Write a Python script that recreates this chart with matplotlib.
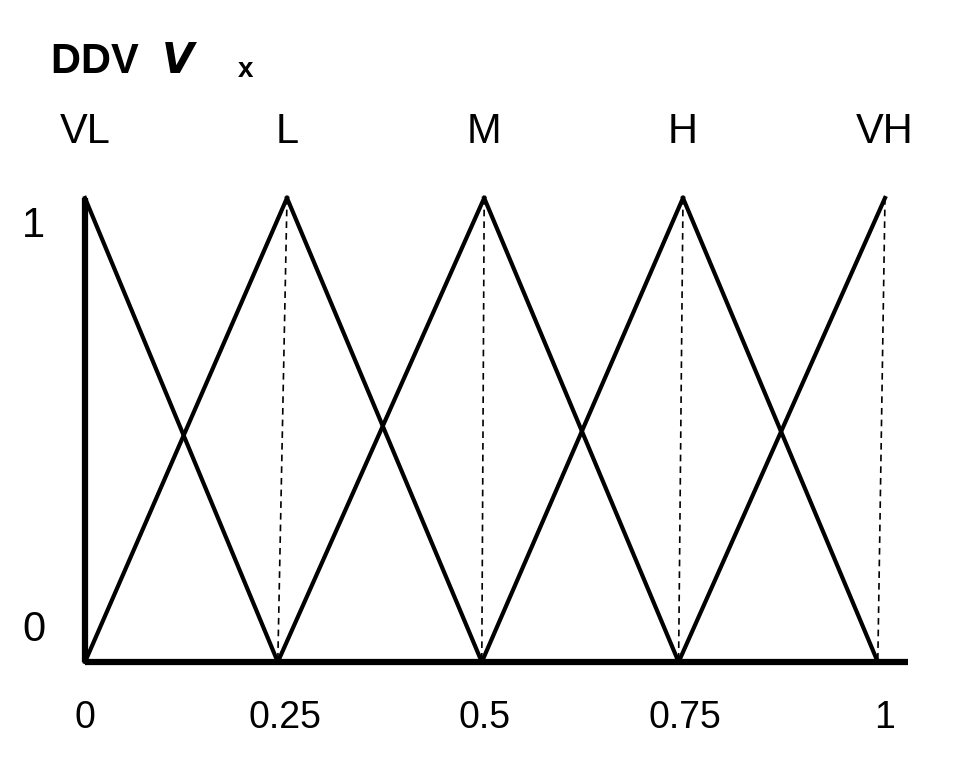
import matplotlib.pyplot as plt

plt.rcParams['font.family'] = ['Liberation Sans', 'DejaVu Sans']

# membership function labels and peak positions (top / bottom ends, hand drawn)
labels = ['VL', 'L', 'M', 'H', 'VH']
peak_top = [0.0, 0.2525, 0.499, 0.7475, 1.0]
peak_bottom = [0.0, 0.241, 0.496, 0.742, 0.991]
xticks = [0, 0.25, 0.5, 0.75, 1]
xtick_labels = ['0', '0.25', '0.5', '0.75', '1']

fig = plt.figure(figsize=(9.57, 7.6), dpi=100)
ax = fig.add_axes([85 / 957, 1 - 662 / 760, 800 / 957, 464 / 760])
ax.set_xlim(0, 1)
ax.set_ylim(0, 1)
ax.axis('off')

lw = 3.0
n = len(labels)
for i in range(n):
    top = peak_top[i]
    if i > 0:
        ax.plot([peak_bottom[i - 1], top], [0, 1], color='black', lw=lw, clip_on=False)
    if i < n - 1:
        ax.plot([top, peak_bottom[i + 1]], [1, 0], color='black', lw=lw, clip_on=False)
    if i > 0:
        ax.plot([top, peak_bottom[i]], [1, 0], color='black', lw=1.2, ls=(0, (4, 3)), clip_on=False)
    ax.text(top, 1.1, labels[i], ha='center', va='bottom', fontsize=30)

# axes lines
ax.plot([0, 0], [0, 1], color='black', lw=4.5, clip_on=False, solid_capstyle='butt')
ax.plot([0, 1.029], [0, 0], color='black', lw=4.5, clip_on=False, solid_capstyle='butt')

for x, t in zip(xticks, xtick_labels):
    ax.text(x, -0.12, t, ha='center', va='center', fontsize=27)
ax.text(-0.05, 0.94, '1', ha='right', va='center', fontsize=30)
ax.text(-0.05, 0.07, '0', ha='right', va='center', fontsize=30)

fig.text(50 / 957, 1 - 62 / 760, r'DDV  $\boldsymbol{V}$', fontsize=30, fontweight='bold', va='center')
fig.text(50 / 957, 1 - 62 / 760, 'DDV ', fontsize=30, fontweight='bold', va='center', alpha=0)
fig.text(238 / 957, 1 - 70 / 760, 'x', fontsize=20, fontweight='bold', va='center')

fig.savefig('out.png', dpi=100)
